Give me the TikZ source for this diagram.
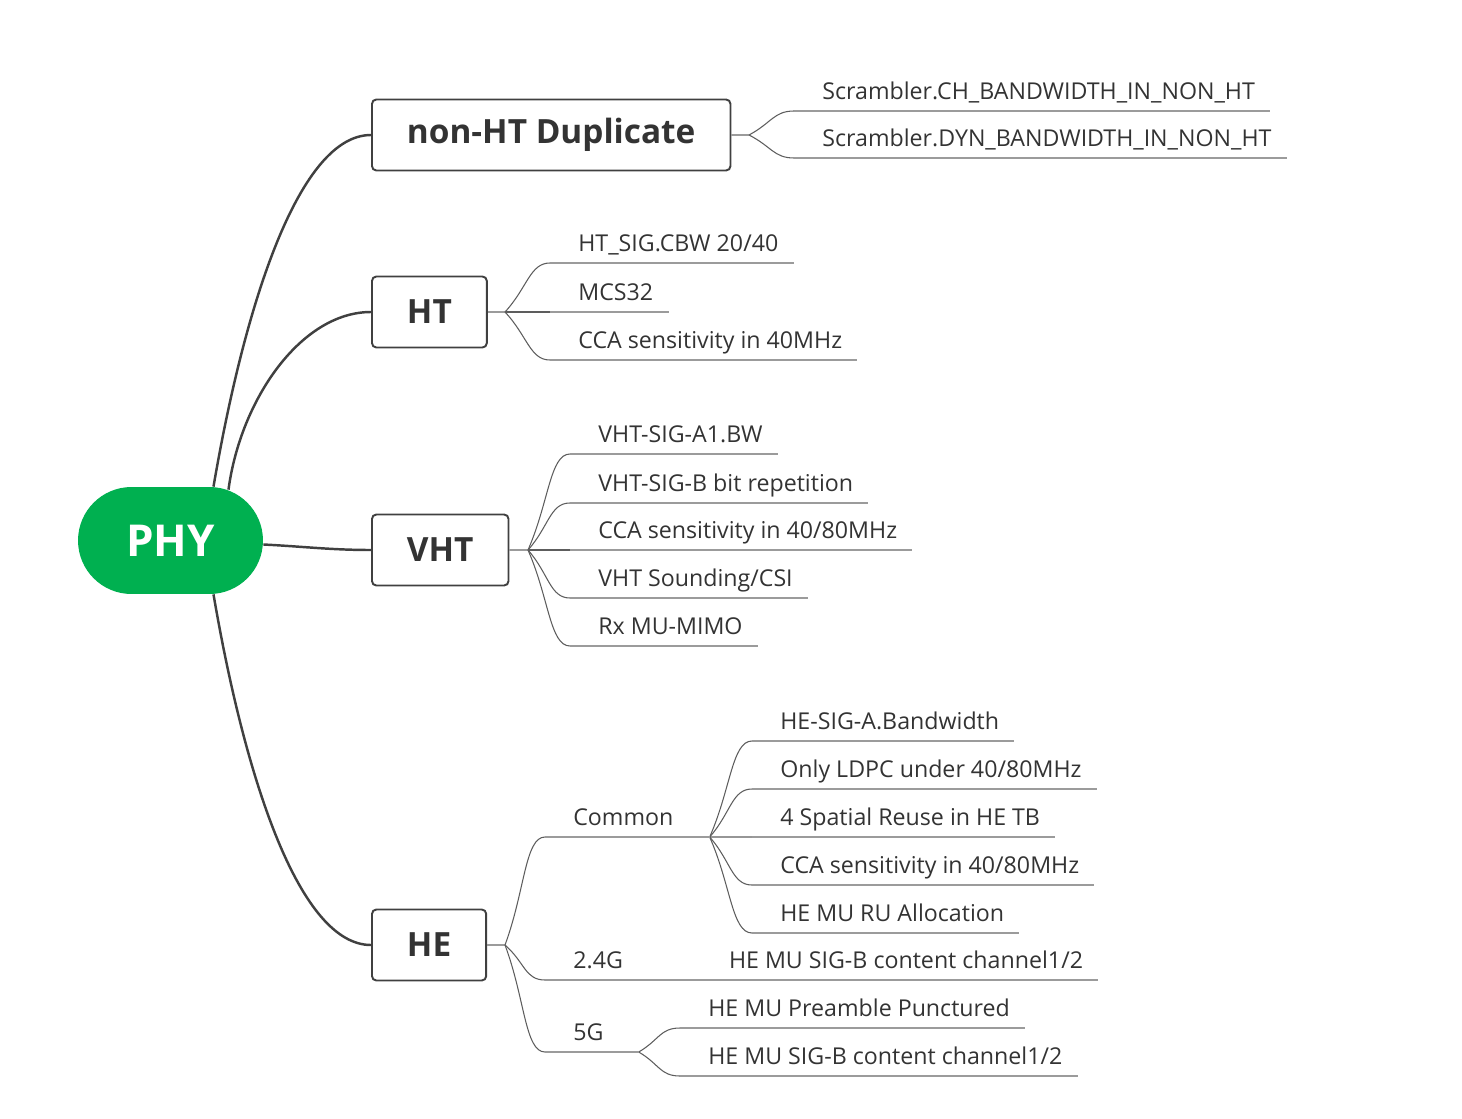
\documentclass[tikz,border=0pt]{standalone}
\usepackage{fontspec}
\setmainfont{Open Sans}
\usepackage{tikz}
\usetikzlibrary{calc}

\definecolor{phygreen}{RGB}{0,176,80}
\definecolor{linedark}{RGB}{64,64,64}
\definecolor{linegray}{RGB}{155,155,155}
\definecolor{textdark}{RGB}{51,51,51}

\begin{document}
\begin{tikzpicture}[x=0.02cm, y=-0.02cm,
    root/.style={fill=phygreen, text=white, font=\fontsize{25}{28}\selectfont\bfseries, minimum width=3.7cm, minimum height=2.14cm, rounded corners=1.07cm, inner sep=0},
    topic/.style={draw=linedark, line width=1.1pt, rounded corners=2.5pt, anchor=west, text=textdark, font=\fontsize{19}{22}\selectfont\bfseries, inner xsep=0.7cm, minimum height=1.42cm},
    txt/.style={anchor=south west, inner sep=0, text=textdark, font=\fontsize{13.2}{16}\selectfont, text height=0.34cm, text depth=0.22cm},
    leaf/.style={txt, execute at begin node=\hspace*{0.56cm}, execute at end node=\hspace*{0.3cm}},
    mid/.style={txt, text width=#1, align=left, execute at begin node=\noindent\hspace*{0.56cm}},
    main/.style={draw=linedark, line width=1.4pt},
    branch/.style={draw=linedark!85, line width=0.6pt},
    uline/.style={draw=linegray, line width=0.9pt},
    stem/.style={draw=linegray, line width=0.9pt}]
      \useasboundingbox (0,0) rectangle (1462,1118);

      \node[root]  (PHY)  at (170.5,540.5)  {PHY};
      \node[topic] (NDUP) at (371,135)      {non-HT Duplicate};
      \node[topic] (HT)   at (371,312)      {HT};
      \node[topic] (VHT)  at (371,550)      {VHT};
      \node[topic] (HE)   at (371,945)      {HE};

      \draw[main] ([xshift=0.86cm]PHY.north) .. controls +(32,-187) and +(-71,0) .. (NDUP.west);
      \draw[main] ([xshift=1.16cm,yshift=-0.06cm]PHY.north) .. controls +(12,-90) and +(-70,0) .. (HT.west);
      \draw[main] ([yshift=-0.08cm]PHY.east) .. controls +(40,2) and +(-40,0) .. (VHT.west);
      \draw[main] ([xshift=0.86cm]PHY.south) .. controls +(32,187) and +(-71,0) .. (HE.west);

      \coordinate (JN)  at (749,135);
      \coordinate (JHT) at (505,312);
      \coordinate (JV)  at (528,550);
      \coordinate (JHE) at (505,945);

      \draw[stem] (NDUP.east) -- (JN);
      \draw[stem] (HT.east)   -- (JHT);
      \draw[stem] (VHT.east)  -- (JV);
      \draw[stem] (HE.east)   -- (JHE);

      % non-HT Duplicate
      \node[leaf] (N1) at (794,111) {Scrambler.CH\_BANDWIDTH\_IN\_NON\_HT};
      \node[leaf] (N2) at (794,158) {Scrambler.DYN\_BANDWIDTH\_IN\_NON\_HT};

      % HT
      \node[leaf] (H1) at (550,263) {HT\_SIG.CBW 20/40};
      \node[leaf] (H2) at (550,312) {MCS32};
      \node[leaf] (H3) at (550,360) {CCA sensitivity in 40MHz};

      % VHT
      \node[leaf] (V1) at (570,454) {VHT-SIG-A1.BW};
      \node[leaf] (V2) at (570,503) {VHT-SIG-B bit repetition};
      \node[leaf] (V3) at (570,550) {CCA sensitivity in 40/80MHz};
      \node[leaf] (V4) at (570,598) {VHT Sounding/CSI};
      \node[leaf] (V5) at (570,646) {Rx MU-MIMO};

      % HE
      \node[mid=3.28cm] (COM) at (545,837)  {Common};
      \node[mid=3.1cm]  (G24) at (545,980)  {2.4G};
      \node[mid=1.86cm] (G5)  at (545,1052) {5G};

      \node[leaf] (C1) at (752,741) {HE-SIG-A.Bandwidth};
      \node[leaf] (C2) at (752,789) {Only LDPC under 40/80MHz};
      \node[leaf] (C3) at (752,837) {4 Spatial Reuse in HE TB};
      \node[leaf] (C4) at (752,885) {CCA sensitivity in 40/80MHz};
      \node[leaf] (C5) at (752,933) {HE MU RU Allocation};

      \node[leaf] (G24C) at (G24.south east) {HE MU SIG-B content channel1/2};

      \node[leaf] (F1) at (680,1028) {HE MU Preamble Punctured};
      \node[leaf] (F2) at (680,1076) {HE MU SIG-B content channel1/2};

      \foreach \n in {N1,N2} \draw[branch] (JN) .. controls ($(JN)!.5!(\n.south west)$) and ($(\n.south west)+(-20,0)$) .. (\n.south west);
      \foreach \n in {H1,H2,H3} \draw[branch] (JHT) .. controls ($(JHT)!.5!(\n.south west)$) and ($(\n.south west)+(-20,0)$) .. (\n.south west);
      \foreach \n in {V1,V2,V3,V4,V5} \draw[branch] (JV) .. controls ($(JV)!.5!(\n.south west)$) and ($(\n.south west)+(-20,0)$) .. (\n.south west);
      \foreach \n in {COM,G24,G5} \draw[branch] (JHE) .. controls ($(JHE)!.5!(\n.south west)$) and ($(\n.south west)+(-20,0)$) .. (\n.south west);
      \foreach \n in {C1,C2,C3,C4,C5} \draw[branch] (COM.south east) .. controls ($(COM.south east)!.5!(\n.south west)$) and ($(\n.south west)+(-20,0)$) .. (\n.south west);
      \foreach \n in {F1,F2} \draw[branch] (G5.south east) .. controls ($(G5.south east)!.5!(\n.south west)$) and ($(\n.south west)+(-20,0)$) .. (\n.south west);

      \foreach \n in {N1,N2,H1,H2,H3,V1,V2,V3,V4,V5,COM,G24,G5,C1,C2,C3,C4,C5,G24C,F1,F2}
        \draw[uline] (\n.south west) -- (\n.south east);
    \end{tikzpicture}
\end{document}
